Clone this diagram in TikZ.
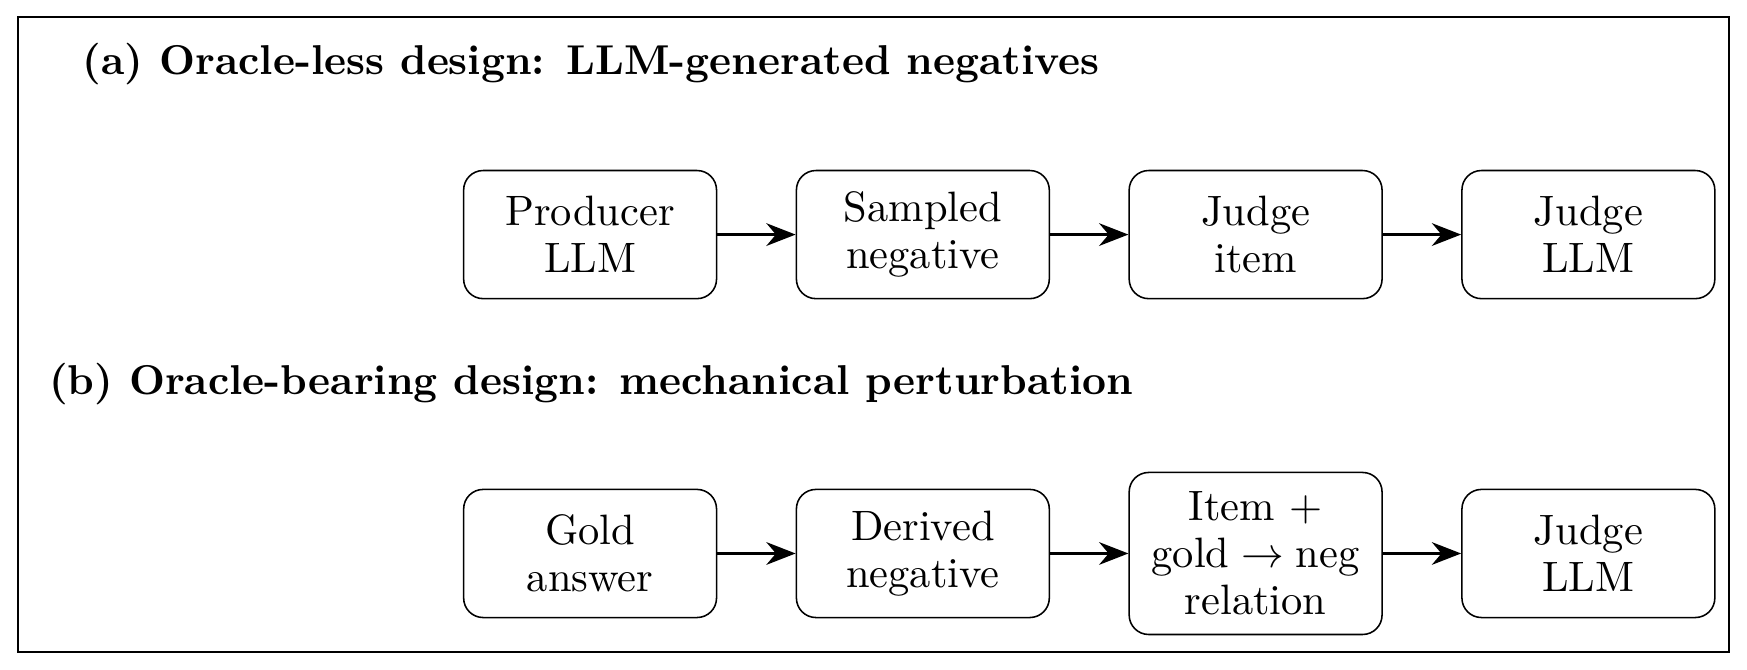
\documentclass[tikz,border=0pt]{standalone}
\usetikzlibrary{arrows.meta}

\tikzstyle{stage}=[draw,rounded corners=5pt,minimum width=2.28cm,minimum height=1.155cm,align=center,inner sep=5pt,font=\fontsize{10.9}{12}\selectfont]
\tikzstyle{flow}=[-{Stealth[length=7.5pt,width=5.8pt]},line width=0.8pt]
\tikzstyle{panel}=[font=\fontsize{10.7}{12}\selectfont\bfseries]

\begin{document}
\begin{tikzpicture}
    \useasboundingbox (0,0) rectangle (15.75,6.04);
    \draw[line width=0.5pt] (0.16,0.16) rectangle (15.59,5.89);
    %Panel titles
    \node[panel] (ta) at (5.33,5.46) {(a) Oracle-less design: LLM-generated negatives};
    \node[panel] (tb) at (5.33,2.58) {(b) Oracle-bearing design: mechanical perturbation};
    %Oracle-less row
    \foreach \pos/\name/\txt in {{(5.32,3.925)/prod/Producer\\ LLM}, {(8.32,3.925)/samp/Sampled\\ negative},
                                 {(11.32,3.925)/jitem/Judge\\ item}, {(14.32,3.925)/jllma/Judge\\ LLM}}
    \node[stage] (\name) at \pos {\txt};
    %Oracle-bearing row
    \foreach \pos/\name/\txt in {{(5.32,1.05)/gold/Gold\\ answer}, {(8.32,1.05)/deriv/Derived\\ negative},
                                 {(11.32,1.05)/rel/Item +\\ gold${}\to{}$neg\\ relation}, {(14.32,1.05)/jllmb/Judge\\ LLM}}
    \node[stage] (\name) at \pos {\txt};
    %Arrows
    \foreach \a/\b in {prod/samp, samp/jitem, jitem/jllma, gold/deriv, deriv/rel, rel/jllmb}
    \draw[flow] (\a) -- (\b);
\end{tikzpicture}
\end{document}
